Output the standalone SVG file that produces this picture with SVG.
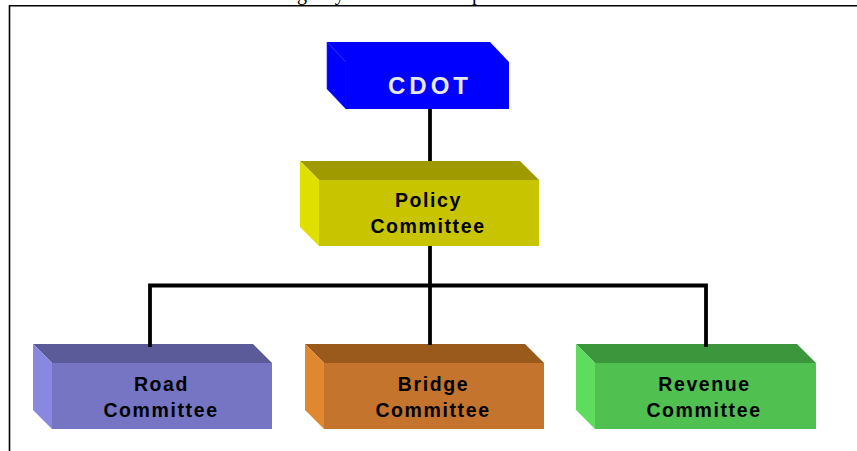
<svg xmlns="http://www.w3.org/2000/svg" width="857" height="451" viewBox="0 0 857 451">
  <style>
    .frame { fill: none; stroke: #000; stroke-width: 1.6; }
    .lead { font-family: "Liberation Serif", "Times New Roman", serif; font-size: 20px; fill: #000; }
    .label { font-family: "Liberation Sans", Arial, sans-serif; font-weight: bold; font-size: 19.5px; letter-spacing: 1.6px; text-anchor: middle; fill: #000; }
    .title { font-family: "Liberation Sans", Arial, sans-serif; font-weight: bold; font-size: 24px; letter-spacing: 4px; text-anchor: middle; fill: #E8E8E8; }
    .wire { fill: none; stroke: #000; stroke-width: 3.8; stroke-linejoin: miter; stroke-linecap: butt; }
  </style>

  <rect width="857" height="451" fill="#fff"/>

  <!-- running text from the page above, mostly cut off by the frame -->
  <text class="lead" y="0">The committee structure of the<tspan x="288">agency</tspan> that will<tspan x="462">up</tspan></text>

  <!-- page frame -->
  <path class="frame" d="M9.5 451 V5.8 H857"/>

  <!-- CDOT -->
  <g id="cdot">
    <polygon points="327,42 490,42 509,62 346,62" fill="#0000FF"/>
    <polygon points="327,42 346,62 346,109 327,89" fill="#0000FF" stroke="#1E1EFF" stroke-width="0.6"/>
    <rect x="346" y="62" width="163" height="47" fill="#0000FF"/>
    <text class="title" x="430" y="94">CDOT</text>
  </g>

  <!-- Policy Committee -->
  <g id="policy">
    <polygon points="300,161 520,161 539,180 319,180" fill="#9E9A00"/>
    <polygon points="300,161 319,180 319,246 300,227" fill="#E0E000"/>
    <rect x="319" y="180" width="220" height="66" fill="#C8C400"/>
    <text class="label" x="428.5" y="207">Policy</text>
    <text class="label" x="428" y="233">Committee</text>
  </g>

  <!-- Road Committee -->
  <g id="road">
    <polygon points="33,344 253,344 272,363 52,363" fill="#5B5B99"/>
    <polygon points="33,344 52,363 52,429 33,410" fill="#8888E0"/>
    <rect x="52" y="363" width="220" height="66" fill="#7575C4"/>
    <text class="label" x="161.5" y="391">Road</text>
    <text class="label" x="161" y="417">Committee</text>
  </g>

  <!-- Bridge Committee -->
  <g id="bridge">
    <polygon points="305,344 525,344 544,363 324,363" fill="#9A5A1C"/>
    <polygon points="305,344 324,363 324,429 305,410" fill="#E08830"/>
    <rect x="324" y="363" width="220" height="66" fill="#C4742C"/>
    <text class="label" x="433.5" y="391">Bridge</text>
    <text class="label" x="433" y="417">Committee</text>
  </g>

  <!-- Revenue Committee -->
  <g id="revenue">
    <polygon points="576,344 797,344 816,363 595,363" fill="#3C963C"/>
    <polygon points="576,344 595,363 595,429 576,410" fill="#5EDC5E"/>
    <rect x="595" y="363" width="221" height="66" fill="#50C050"/>
    <text class="label" x="704.5" y="391">Revenue</text>
    <text class="label" x="704" y="417">Committee</text>
  </g>

  <!-- connectors -->
  <g id="connectors">
    <path class="wire" d="M430 109 V161"/>
    <path class="wire" d="M430 246 V345"/>
    <path class="wire" d="M150 347 V285.5 H706 V347"/>
  </g>
</svg>
